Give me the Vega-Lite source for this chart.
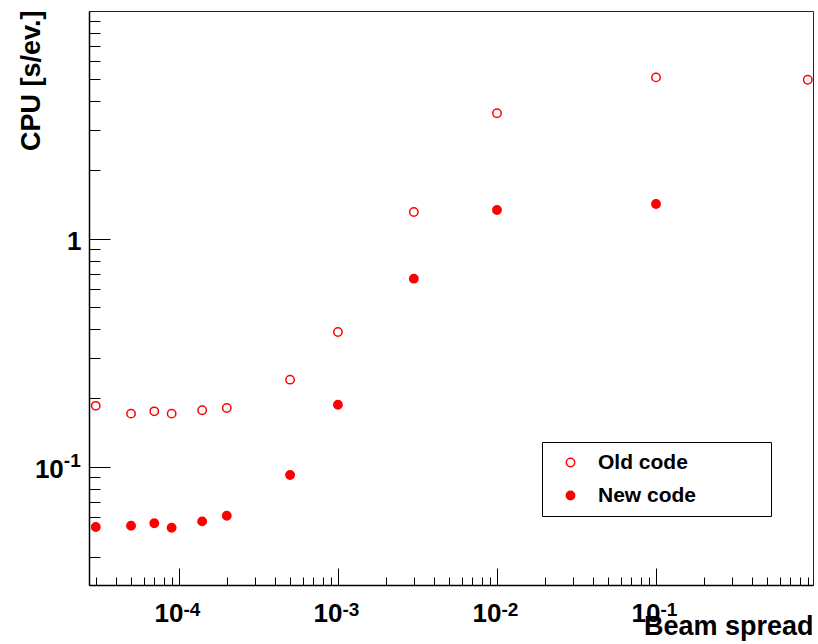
{
  "$schema": "https://vega.github.io/schema/vega-lite/v6.json",
  "width": 724,
  "height": 574,
  "autosize": "none",
  "padding": {"left": 89, "top": 11, "right": 5, "bottom": 59},
  "background": "white",
  "config": {
    "font": "Liberation Sans",
    "view": {"stroke": "#222222", "strokeWidth": 1},
    "axis": {"grid": false, "tickColor": "black", "tickWidth": 1, "domainColor": "black", "domainWidth": 1.5, "labelColor": "black", "titleColor": "black", "labelFont": "Liberation Sans", "titleFont": "Liberation Sans", "labelFontWeight": "bold", "titleFontWeight": "bold", "labelFlush": false, "labelOverlap": false, "labelBaseline": "alphabetic"}
  },
  "data": {
    "values": [
      {"spread": 0.00003, "cpu": 0.185, "series": "Old code"},
      {"spread": 0.00005, "cpu": 0.171, "series": "Old code"},
      {"spread": 0.00007, "cpu": 0.175, "series": "Old code"},
      {"spread": 0.00009, "cpu": 0.171, "series": "Old code"},
      {"spread": 0.00014, "cpu": 0.177, "series": "Old code"},
      {"spread": 0.0002, "cpu": 0.181, "series": "Old code"},
      {"spread": 0.0005, "cpu": 0.241, "series": "Old code"},
      {"spread": 0.001, "cpu": 0.39, "series": "Old code"},
      {"spread": 0.003, "cpu": 1.31, "series": "Old code"},
      {"spread": 0.01, "cpu": 3.55, "series": "Old code"},
      {"spread": 0.1, "cpu": 5.1, "series": "Old code"},
      {"spread": 0.9, "cpu": 4.98, "series": "Old code"},
      {"spread": 0.00003, "cpu": 0.0544, "series": "New code"},
      {"spread": 0.00005, "cpu": 0.0551, "series": "New code"},
      {"spread": 0.00007, "cpu": 0.0565, "series": "New code"},
      {"spread": 0.00009, "cpu": 0.054, "series": "New code"},
      {"spread": 0.00014, "cpu": 0.0576, "series": "New code"},
      {"spread": 0.0002, "cpu": 0.061, "series": "New code"},
      {"spread": 0.0005, "cpu": 0.092, "series": "New code"},
      {"spread": 0.001, "cpu": 0.187, "series": "New code"},
      {"spread": 0.003, "cpu": 0.668, "series": "New code"},
      {"spread": 0.01, "cpu": 1.336, "series": "New code"},
      {"spread": 0.1, "cpu": 1.42, "series": "New code"}
    ]
  },
  "resolve": {"axis": {"x": "independent", "y": "independent"}},
  "layer": [
    {
      "mark": {"type": "point", "opacity": 0},
      "encoding": {
        "x": {
          "field": "spread", "type": "quantitative",
          "scale": {"type": "log", "domain": [0.0000272, 0.971], "nice": false},
          "axis": {
            "orient": "bottom", "title": null, "labels": false, "domain": false, "tickSize": -8,
            "values": [0.00003, 0.00004, 0.00005, 0.00006, 0.00007, 0.00008, 0.00009,
                       0.0002, 0.0003, 0.0004, 0.0005, 0.0006, 0.0007, 0.0008, 0.0009,
                       0.002, 0.003, 0.004, 0.005, 0.006, 0.007, 0.008, 0.009,
                       0.02, 0.03, 0.04, 0.05, 0.06, 0.07, 0.08, 0.09,
                       0.2, 0.3, 0.4, 0.5, 0.6, 0.7, 0.8, 0.9]
          }
        },
        "y": {
          "field": "cpu", "type": "quantitative",
          "scale": {"type": "log", "domain": [0.0303, 9.97], "nice": false},
          "axis": {
            "orient": "left", "title": null, "labels": false, "domain": false, "tickSize": -11,
            "values": [0.04, 0.06, 0.07, 0.08, 0.09,
                       0.2, 0.3, 0.4, 0.5, 0.6, 0.7, 0.8, 0.9,
                       2, 3, 4, 5, 6, 7, 8, 9]
          }
        }
      }
    },
    {
      "mark": {"type": "point", "opacity": 0},
      "encoding": {
        "x": {
          "field": "spread", "type": "quantitative",
          "scale": {"type": "log", "domain": [0.0000272, 0.971], "nice": false},
          "axis": {
            "orient": "bottom", "title": null, "domain": false, "tickSize": -17, "tickOpacity": 0,
            "values": [0.0001, 0.001, 0.01, 0.1],
            "labelExpr": "datum.value < 0.0005 ? '-4' : datum.value < 0.005 ? '-3' : datum.value < 0.05 ? '-2' : '-1'",
            "labelFontSize": 19, "labelAlign": "left", "labelOffset": 4, "labelPadding": 47
          }
        },
        "y": {
          "field": "cpu", "type": "quantitative",
          "scale": {"type": "log", "domain": [0.0303, 9.97], "nice": false},
          "axis": {
            "orient": "left", "title": null, "domain": false, "tickSize": -21, "tickOpacity": 0,
            "values": [0.1],
            "labelExpr": "'-1'",
            "labelFontSize": 19, "labelAlign": "left", "labelOffset": -0.5, "labelPadding": 46.7
          }
        }
      }
    },
    {
      "mark": {"type": "point", "shape": "circle", "filled": true, "stroke": "#ff0000", "strokeWidth": 1.5, "size": 70, "opacity": 1},
      "encoding": {
        "x": {
          "field": "spread", "type": "quantitative",
          "scale": {"type": "log", "domain": [0.0000272, 0.971], "nice": false},
          "axis": {
            "orient": "bottom", "values": [0.0001, 0.001, 0.01, 0.1], "tickSize": -17,
            "labelExpr": "'10'",
            "labelFontSize": 26, "labelAlign": "right", "labelOffset": 4, "labelPadding": 53,
            "title": "Beam spread", "titleFontSize": 27, "titleX": 724, "titleY": 49, "titleAlign": "right", "titleBaseline": "alphabetic", "titleAnchor": "end"
          }
        },
        "y": {
          "field": "cpu", "type": "quantitative",
          "scale": {"type": "log", "domain": [0.0303, 9.97], "nice": false},
          "axis": {
            "orient": "left", "values": [0.1, 1], "tickSize": -21,
            "labelExpr": "datum.value > 0.5 ? '1' : '10'",
            "labelFontSize": 26, "labelAlign": "right", "labelOffset": 11,
            "labelPadding": {"condition": {"test": "datum.value < 0.5", "value": 46.7}, "value": 29},
            "title": "CPU [s/ev.]", "titleFontSize": 27, "titleX": -50, "titleY": -1, "titleAngle": -90, "titleAlign": "right", "titleBaseline": "alphabetic", "titleAnchor": "end"
          }
        },
        "fill": {
          "field": "series", "type": "nominal",
          "scale": {"domain": ["Old code", "New code"], "range": ["transparent", "#ff0000"]},
          "legend": {
            "orient": "none", "legendX": 453, "legendY": 431, "title": null,
            "strokeColor": "black", "fillColor": "white", "padding": 10,
            "labelFontSize": 21, "labelFont": "Liberation Sans", "labelFontWeight": "bold", "labelColor": "black", "labelLimit": 400,
            "labelExpr": "datum.label + '\u00a0\u00a0\u00a0\u00a0\u00a0\u00a0\u00a0\u00a0\u00a0\u00a0\u00a0\u200b'",
            "symbolType": "circle", "symbolSize": 70, "symbolStrokeColor": "#ff0000", "symbolStrokeWidth": 1.5,
            "symbolOffset": 8, "labelOffset": 17, "rowPadding": 11
          }
        }
      }
    }
  ]
}
